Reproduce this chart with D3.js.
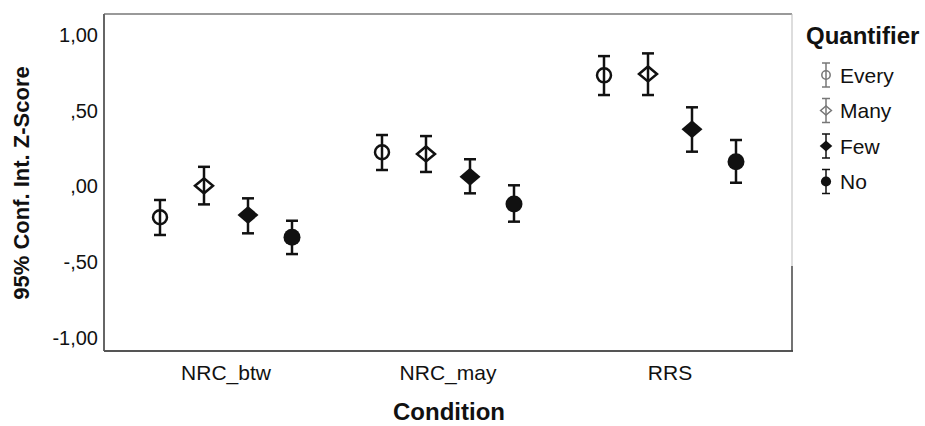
<!DOCTYPE html>
<html>
<head>
<meta charset="utf-8">
<script src="https://cdn.jsdelivr.net/npm/d3@7"></script>
<style>
  body { margin: 0; background: #fff; }
  text { font-family: "Liberation Sans", Arial, sans-serif; fill: #111; }
</style>
</head>
<body>
<div id="chart"></div>
<script>
// data
var conditions = ["NRC_btw", "NRC_may", "RRS"];
var quantifiers = ["Every", "Many", "Few", "No"];
var yTicks = [-1, -0.5, 0, 0.5, 1];

var meanEvery = [-0.203, 0.226, 0.734];
var meanMany  = [0.005, 0.215, 0.743];
var meanFew   = [-0.188, 0.065, 0.378];
var meanNo    = [-0.335, -0.116, 0.164];

var lowEvery = [-0.320, 0.109, 0.604];
var lowMany  = [-0.118, 0.096, 0.604];
var lowFew   = [-0.309, -0.045, 0.230];
var lowNo    = [-0.446, -0.232, 0.025];

var highEvery = [-0.089, 0.340, 0.861];
var highMany  = [0.130, 0.333, 0.879];
var highFew   = [-0.078, 0.180, 0.523];
var highNo    = [-0.226, 0.008, 0.307];

var means = [meanEvery, meanMany, meanFew, meanNo];
var lows = [lowEvery, lowMany, lowFew, lowNo];
var highs = [highEvery, highMany, highFew, highNo];

var width = 925, height = 426;
var plotL = 104, plotR = 792, plotT = 14, plotB = 351;

var svg = d3.select("#chart")
  .append("svg")
    .attr("width", width)
    .attr("height", height);

var x = d3.scaleBand()
  .domain(conditions)
  .range([plotL + 11, plotR - 11]);

var dodge = d3.scalePoint()
  .domain(quantifiers)
  .range([-66, 66]);

var y = d3.scaleLinear()
  .domain([-1.086, 1.139])
  .range([plotB, plotT]);

// flatten into rows
var rows = [];
quantifiers.forEach(function(q, i) {
  conditions.forEach(function(c, j) {
    rows.push({q: q, c: c, mean: means[i][j], lo: lows[i][j], hi: highs[i][j]});
  });
});

// frame
svg.append("line").attr("x1", plotL).attr("x2", plotR).attr("y1", plotT).attr("y2", plotT)
  .attr("stroke", "#777").attr("stroke-width", 1.5);
svg.append("line").attr("x1", plotL).attr("x2", plotL).attr("y1", plotT).attr("y2", plotB)
  .attr("stroke", "#666").attr("stroke-width", 2);
svg.append("line").attr("x1", plotL).attr("x2", plotR + 1).attr("y1", plotB).attr("y2", plotB)
  .attr("stroke", "#555").attr("stroke-width", 2);
svg.append("line").attr("x1", plotR).attr("x2", plotR).attr("y1", plotT).attr("y2", 266)
  .attr("stroke", "#bbb").attr("stroke-width", 1);
svg.append("line").attr("x1", plotR).attr("x2", plotR).attr("y1", 266).attr("y2", plotB)
  .attr("stroke", "#444").attr("stroke-width", 1.5);

// y tick labels, spss style (comma decimal, no leading zero)
function fmt(v) {
  return v.toFixed(2).replace(".", ",").replace(/^(-?)0,/, "$1,");
}
var yAxis = d3.axisLeft(y).tickValues(yTicks).tickSize(0).tickPadding(6).tickFormat(fmt);
var ya = svg.append("g")
  .attr("transform", "translate(" + plotL + ",0)")
  .call(yAxis);
ya.select(".domain").remove();
ya.selectAll("text")
  .style("font-family", "Liberation Sans, Arial, sans-serif")
  .style("font-size", "20px")
  .attr("fill", "#111");

// x labels
var xAxis = d3.axisBottom(x).tickSize(0).tickPadding(14);
var xa = svg.append("g")
  .attr("transform", "translate(0," + plotB + ")")
  .call(xAxis);
xa.select(".domain").remove();
xa.selectAll("text")
  .style("font-family", "Liberation Sans, Arial, sans-serif")
  .style("font-size", "21px")
  .attr("fill", "#111");

// axis titles
svg.append("text")
  .attr("x", (plotL + plotR) / 2 + 1)
  .attr("y", 420)
  .attr("text-anchor", "middle")
  .style("font-size", "24px")
  .style("font-weight", "bold")
  .text("Condition");

svg.append("text")
  .attr("transform", "translate(29,183) rotate(-90)")
  .attr("text-anchor", "middle")
  .style("font-size", "22px")
  .style("font-weight", "bold")
  .text("95% Conf. Int. Z-Score");

// markers
function drawMarker(g, q, s, col) {
  if (q == "Every") {
    g.append("circle").attr("r", 7 * s).attr("fill", "none").attr("stroke", col).attr("stroke-width", 2.5 * s);
  } else if (q == "Many") {
    g.append("path").attr("d", "M" + (-9 * s) + ",0L0," + (-7.5 * s) + "L" + (9 * s) + ",0L0," + (7.5 * s) + "Z")
      .attr("fill", "none").attr("stroke", col).attr("stroke-width", 2.5 * s);
  } else if (q == "Few") {
    g.append("path").attr("d", "M" + (-10.5 * s) + ",0L0," + (-9 * s) + "L" + (10.5 * s) + ",0L0," + (9 * s) + "Z")
      .attr("fill", col);
  } else {
    g.append("circle").attr("r", 8.5 * s).attr("fill", col);
  }
}

var pts = svg.selectAll(".pt")
  .data(rows)
  .enter()
  .append("g")
    .attr("class", "pt")
    .attr("transform", function(d) {
      return "translate(" + (x(d.c) + x.bandwidth() / 2 + dodge(d.q)) + ",0)";
    });

pts.append("line")
  .attr("y1", function(d) { return y(d.hi); })
  .attr("y2", function(d) { return y(d.lo); })
  .attr("stroke", "#111").attr("stroke-width", 2.5);
pts.append("line")
  .attr("x1", -6).attr("x2", 6)
  .attr("y1", function(d) { return y(d.hi); })
  .attr("y2", function(d) { return y(d.hi); })
  .attr("stroke", "#111").attr("stroke-width", 2.5);
pts.append("line")
  .attr("x1", -6).attr("x2", 6)
  .attr("y1", function(d) { return y(d.lo); })
  .attr("y2", function(d) { return y(d.lo); })
  .attr("stroke", "#111").attr("stroke-width", 2.5);

pts.each(function(d) {
  var g = d3.select(this).append("g").attr("transform", "translate(0," + y(d.mean) + ")");
  drawMarker(g, d.q, 1, "#111");
});

// legend
svg.append("text")
  .attr("x", 806)
  .attr("y", 44)
  .style("font-size", "24px")
  .style("font-weight", "bold")
  .text("Quantifier");

var leg = svg.selectAll(".leg")
  .data(quantifiers)
  .enter()
  .append("g")
    .attr("class", "leg")
    .attr("transform", function(d, i) { return "translate(826," + (75 + i * 35.5) + ")"; });

leg.each(function(q) {
  var g = d3.select(this);
  var col = (q == "Every" || q == "Many") ? "#777" : "#111";
  g.append("line").attr("y1", -12).attr("y2", 12).attr("stroke", col).attr("stroke-width", 1.5);
  g.append("line").attr("x1", -4).attr("x2", 4).attr("y1", -12).attr("y2", -12).attr("stroke", col).attr("stroke-width", 1.5);
  g.append("line").attr("x1", -4).attr("x2", 4).attr("y1", 12).attr("y2", 12).attr("stroke", col).attr("stroke-width", 1.5);
  drawMarker(g, q, 0.6, col);
  g.append("text")
    .attr("x", 14)
    .attr("y", 7.5)
    .style("font-size", "21px")
    .text(q);
});
</script>
</body>
</html>
